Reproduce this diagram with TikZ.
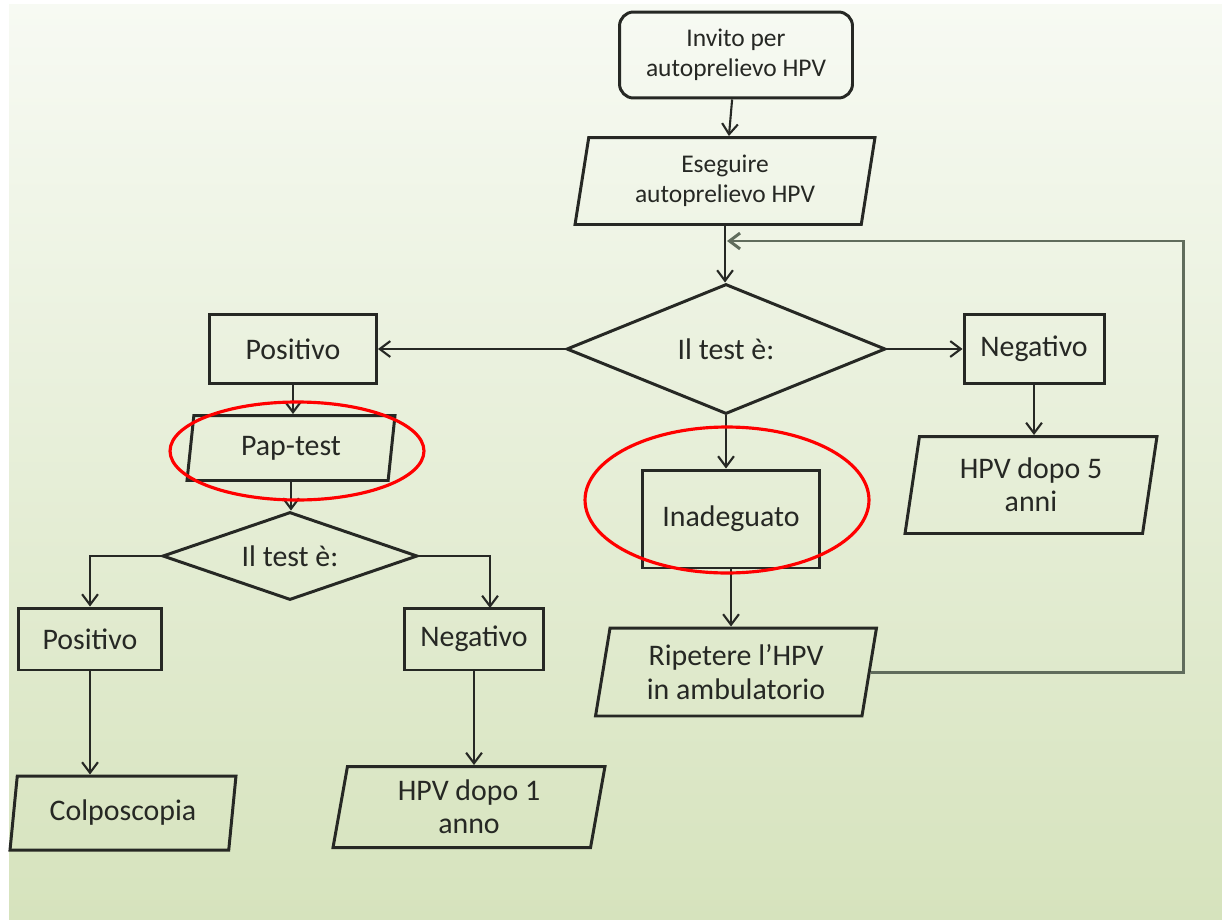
\documentclass[tikz,border=0pt]{standalone}
\usepackage{fontspec}
\setmainfont{Carlito}
\usepackage{xcolor}
\usetikzlibrary{shapes.geometric, arrows, positioning, arrows.meta}
\definecolor{sfondoalto}{RGB}{247,250,243}
\definecolor{sfondobasso}{RGB}{214,227,189}
\definecolor{tratto}{RGB}{38,40,36}
\definecolor{ritorno}{RGB}{96,108,92}

\begin{document}
\begin{tikzpicture}[
        x=0.02cm, y=-0.02cm, % one unit = one pixel of the sketch
        arrow/.style={line width=1.2pt, draw=tratto, -{Straight Barb[length=6pt,width=9pt]}}, % Arrow style
        riga/.style={line width=1.7pt, draw=ritorno, -{Straight Barb[length=6pt,width=9pt]}},
        every node/.style={draw=tratto, line width=1.7pt, text=tratto, align=center, inner sep=1pt, font=\fontsize{17}{19}\selectfont}, % Node style
        box/.style={rectangle},
        dato/.style={trapezium, trapezium left angle=76, trapezium right angle=104, trapezium stretches body},
        scelta/.style={diamond, inner sep=0pt},
        piccolo/.style={font=\fontsize{14.5}{17}\selectfont},
        evidenzia/.style={ellipse, draw=red, line width=1.8pt}
    ]

        % background
        \useasboundingbox (0,0) rectangle (1222,919);
        \fill[white] (0,0) rectangle (1222,919);
        \shade[top color=sfondoalto, bottom color=sfondobasso] (9,5) rectangle (1222,919);

        % Central column
        \node (invito) [box, rounded corners=8pt, piccolo, minimum width=4.66cm, minimum height=1.72cm] at (736,55) {Invito per\\autoprelievo HPV};
        \node (eseguire) [dato, piccolo, minimum width=6.00cm, minimum height=1.74cm] at (725,181) {Eseguire\\autoprelievo HPV};
        \node (test) [scelta, aspect=2.45, minimum width=6.38cm, minimum height=2.60cm] at (726,349) {Il test è:};
        \node (inadeguato) [box, minimum width=3.54cm, minimum height=1.96cm] at (731,519) {Inadeguato};
        \node (ripetere) [dato, minimum width=5.62cm, minimum height=1.76cm] at (736,672) {Ripetere l’HPV\\in ambulatorio};

        % Right branch
        \node (negativo) [box, minimum width=2.80cm, minimum height=1.38cm] at (1034,349) {Negativo};
        \node (hpvcinque) [dato, minimum width=5.04cm, minimum height=1.94cm] at (1031,485) {HPV dopo 5\\anni};

        % Left branch
        \node (positivo) [box, minimum width=3.34cm, minimum height=1.38cm] at (293,349) {Positivo};
        \node (paptest) [dato, minimum width=4.16cm, minimum height=1.30cm] at (291,448) {Pap-test};
        \node (testpap) [scelta, aspect=2.9, minimum width=5.10cm, minimum height=1.76cm] at (290,556) {Il test è:};
        \node (positivopap) [box, minimum width=2.86cm, minimum height=1.24cm] at (90,639) {Positivo};
        \node (negativopap) [box, minimum width=2.78cm, minimum height=1.24cm] at (474,639) {Negativo};
        \node (colposcopia) [dato, minimum width=4.52cm, minimum height=1.48cm] at (123,813) {Colposcopia};
        \node (hpvuno) [dato, minimum width=5.44cm, minimum height=1.62cm] at (469,807) {HPV dopo 1\\anno};

        % free ends of the return line
        \coordinate (angolo) at (1183,241);
        \coordinate (ingresso) at (727,241);
        \coordinate (versoneg) at (490,608);

        % Connect the central column
        \draw [arrow] (invito) -- (eseguire);
        \draw [arrow] (eseguire.south) -- (eseguire.south |- test.north);
        \draw [arrow] (test.south) -- (test.south |- inadeguato.north);
        \draw [arrow] (inadeguato.south) -- (inadeguato.south |- ripetere.north);
        \draw [riga] (ripetere.east) -| (angolo) -- (ingresso);

        % Connect the right branch
        \draw [arrow] (test.east) -- (negativo.west);
        \draw [arrow] (negativo.south) -- (negativo.south |- hpvcinque.north);

        % Connect the left branch
        \draw [arrow] (test.west) -- (positivo.east);
        \draw [arrow] (positivo.south) -- (positivo.south |- paptest.north);
        \draw [arrow] (paptest.south) -- (paptest.south |- testpap.north);
        \draw [arrow] (testpap.west) -| (positivopap.north);
        \draw [arrow] (testpap.east) -| (versoneg);
        \draw [arrow] (positivopap.south) -- (positivopap.south |- colposcopia.north);
        \draw [arrow] (negativopap.south) -- (negativopap.south |- hpvuno.north);

        % red marks
        \node (segnopap) [evidenzia, minimum width=5.08cm, minimum height=1.96cm] at (297,451) {};
        \node (segnoinad) [evidenzia, minimum width=5.68cm, minimum height=2.92cm] at (727,500) {};

    \end{tikzpicture}
\end{document}
